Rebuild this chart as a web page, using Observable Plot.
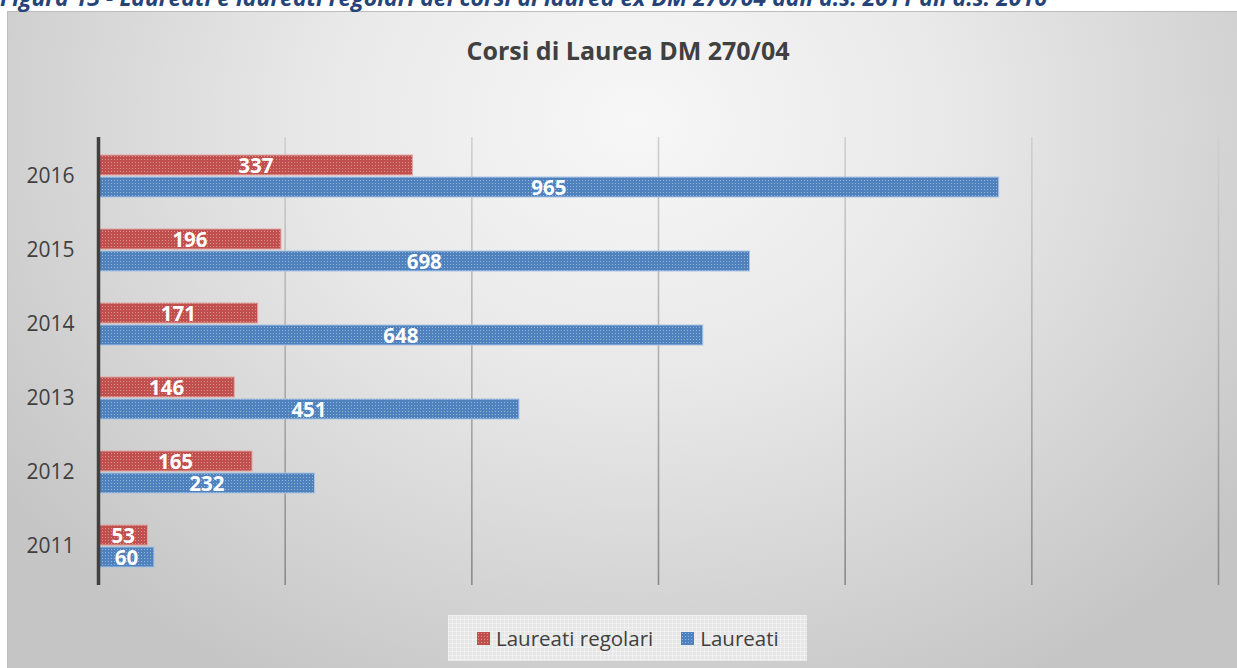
<!DOCTYPE html>
<html>
<head>
<meta charset="utf-8">
<script src="https://cdn.jsdelivr.net/npm/d3@7"></script>
<script src="https://cdn.jsdelivr.net/npm/@observablehq/plot@0.6"></script>
<style>
  html, body { margin: 0; padding: 0; width: 1237px; height: 668px; overflow: hidden; background: #ffffff; font-family: "Open Sans", sans-serif; }
  #caption { position: absolute; left: 0; top: -14.5px; white-space: nowrap; font-style: italic; font-weight: bold; font-size: 23px; line-height: 23px; color: #264478; }
  #frame { position: absolute; left: 7px; top: 11px; width: 1260px; height: 680px; box-sizing: border-box; border: 1.5px solid #bdbdbd;
    background: radial-gradient(ellipse 62% 95% at 50% 16%, #f7f7f7 0%, #e9e9e9 40%, #d4d4d4 75%, #c5c5c5 100%); }
  #title { position: absolute; left: 8px; width: 1240px; top: 38px; text-align: center; font-weight: bold; font-size: 25px; line-height: 25px; color: #404040; }
  #chart { position: absolute; left: 0; top: 0; }
  #legend { position: absolute; left: 448px; top: 615px; width: 359px; height: 46px; box-sizing: border-box; display: flex; align-items: center; padding-left: 29px;
    background-color: #e6e6e6;
    background-image: linear-gradient(rgba(255,255,255,0.35) 1px, transparent 1px), linear-gradient(90deg, rgba(255,255,255,0.35) 1px, transparent 1px);
    background-size: 4px 4px; }
  .item { display: flex; align-items: center; font-size: 20.5px; color: #404040; line-height: 24px; }
  .sw { width: 13px; height: 13px; margin-right: 6px; background-size: 3px 3px; }
</style>
</head>
<body>
<div id="frame"></div>
<div id="caption">Figura 13 - Laureati e laureati regolari dei corsi di laurea ex DM 270/04 dall'a.s. 2011 all'a.s. 2016</div>
<div id="title">Corsi di Laurea DM 270/04</div>
<div id="chart"></div>
<div id="legend"></div>
<script>
// ---- data ----
const years = ["2016", "2015", "2014", "2013", "2012", "2011"];
const laureatiRegolari = [337, 196, 171, 146, 165, 53];
const laureati = [965, 698, 648, 451, 232, 60];
const seriesNames = ["Laureati regolari", "Laureati"];
const xTicks = [0, 200, 400, 600, 800, 1000, 1200];

const colors = { "Laureati regolari": "#c0504d", "Laureati": "#4f81bd" };
const dotColors = { "Laureati regolari": "#dc8f8d", "Laureati": "#92b3da" };
const edgeColors = { "Laureati regolari": "#e2a6a4", "Laureati": "#a9c4e4" };
const patIds = { "Laureati regolari": "patRed", "Laureati": "patBlue" };

const regData = years.map((y, i) => ({ year: y, series: seriesNames[0], value: laureatiRegolari[i] }));
const laurData = years.map((y, i) => ({ year: y, series: seriesNames[1], value: laureati[i] }));

const chart = Plot.plot({
  width: 1237,
  height: 668,
  marginLeft: 98,
  marginRight: 19,
  marginTop: 137,
  marginBottom: 83,
  style: { background: "transparent", fontFamily: "'Open Sans', sans-serif", fontSize: "21px", color: "#404040", overflow: "visible" },
  x: { domain: [xTicks[0], xTicks[xTicks.length - 1]], axis: null },
  y: { domain: years, paddingInner: 0.4375, paddingOuter: 0.21875, tickSize: 0, tickPadding: 24, label: null },
  marks: [
    Plot.ruleX(xTicks.slice(1), { stroke: "url(#gridGrad)", strokeWidth: 1.6 }),
    Plot.barX(regData, { x: "value", y: "year", fill: `url(#${patIds[seriesNames[0]]})`, stroke: edgeColors[seriesNames[0]], strokeWidth: 1, insetBottom: 22 }),
    Plot.barX(laurData, { x: "value", y: "year", fill: `url(#${patIds[seriesNames[1]]})`, stroke: edgeColors[seriesNames[1]], strokeWidth: 1, insetTop: 22 }),
    Plot.ruleX([xTicks[0]], { stroke: "#404040", strokeWidth: 3.5 }),
    Plot.text(regData, { x: d => d.value / 2, y: "year", text: d => String(d.value), dy: -10, fill: "white", fontWeight: "bold", fontSize: 20.5 }),
    Plot.text(laurData, { x: d => d.value / 2, y: "year", text: d => String(d.value), dy: 12, fill: "white", fontWeight: "bold", fontSize: 20.5 })
  ]
});

// textured fills and gridline gradient
const [yTop, yBottom] = chart.scale("y").range;
const ns = "http://www.w3.org/2000/svg";
const defs = document.createElementNS(ns, "defs");
defs.innerHTML = seriesNames.map(s => `
  <pattern id="${patIds[s]}" width="3" height="3" patternUnits="userSpaceOnUse">
    <rect width="3" height="3" fill="${colors[s]}"></rect>
    <rect x="0" y="0" width="1" height="1" fill="${dotColors[s]}"></rect>
  </pattern>`).join("") + `
  <linearGradient id="gridGrad" gradientUnits="userSpaceOnUse" x1="0" x2="0" y1="${yTop}" y2="${yBottom}">
    <stop offset="0" stop-color="#d0d0d0"></stop>
    <stop offset="1" stop-color="#8a8a8a"></stop>
  </linearGradient>`;
chart.insertBefore(defs, chart.firstChild);
document.getElementById("chart").appendChild(chart);

// legend
const legend = document.getElementById("legend");
seriesNames.forEach((s, i) => {
  const item = document.createElement("div");
  item.className = "item";
  if (i > 0) item.style.marginLeft = "28px";
  const sw = document.createElement("span");
  sw.className = "sw";
  sw.style.backgroundColor = colors[s];
  sw.style.backgroundImage = `radial-gradient(${dotColors[s]} 0.7px, transparent 0.9px)`;
  item.appendChild(sw);
  const t = document.createElement("span");
  t.textContent = s;
  item.appendChild(t);
  legend.appendChild(item);
});
</script>
</body>
</html>
